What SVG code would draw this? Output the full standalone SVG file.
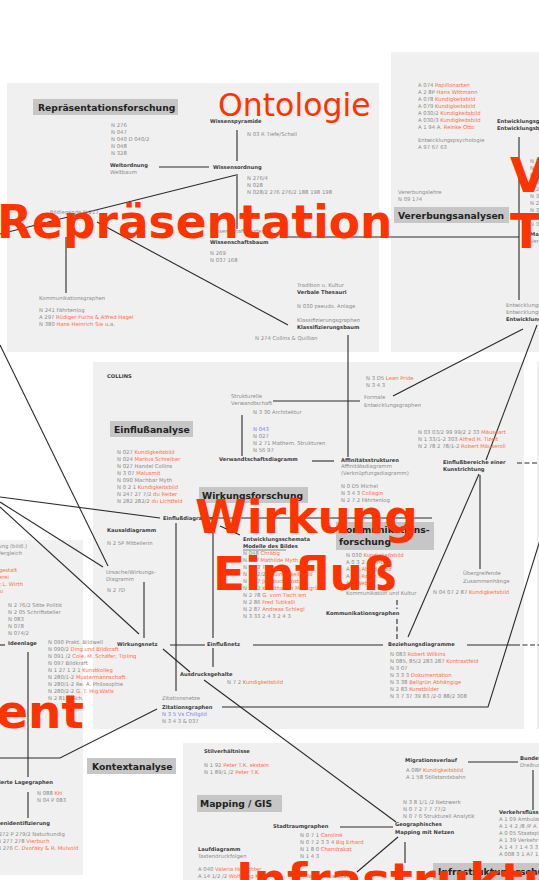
<svg xmlns="http://www.w3.org/2000/svg" width="539" height="880" viewBox="0 0 539 880">
<style>
text{font-family:"DejaVu Sans","Liberation Sans",sans-serif}
.pn{fill:#f0f0f0}
.s{font-size:5.3px;fill:#8a8a8a}
.h{font-size:5.2px;font-weight:bold;fill:#3c3c3c}
.o{fill:#ff6b45}
.bl{fill:#7b7bf0}
.lb rect{fill:#c6c6c6}
.lb text{font-size:9.2px;font-weight:bold;fill:#222}
.big{font-weight:bold;fill:#ff3300}
#connectors line,#connectors polyline{stroke:#2a2a2a;stroke-width:1.1;fill:none}
.d{stroke-dasharray:5 2.5}
.ul{stroke:#444;stroke-width:0.6}
</style>
<rect width="539" height="880" fill="#fff"/>
<g id="panels">
<rect class="pn" x="7" y="83" width="372" height="269"/>
<rect class="pn" x="391" y="52" width="148" height="300"/>
<rect class="pn" x="93" y="362" width="431" height="367"/>
<rect class="pn" x="537" y="362" width="10" height="367"/>
<rect class="pn" x="0" y="540" width="83" height="335"/>
<rect class="pn" x="183" y="743" width="356" height="137"/>
</g>
<g id="connectors">
<line x1="237" y1="130" x2="237" y2="161"/>
<line x1="159" y1="167" x2="209" y2="167"/>
<line x1="237" y1="174" x2="237" y2="229"/>
<line x1="236" y1="175" x2="0" y2="234"/>
<line x1="97" y1="222" x2="288" y2="325"/>
<line x1="66" y1="237" x2="66" y2="293"/>
<line x1="280" y1="237" x2="519" y2="237"/>
<line x1="519" y1="137" x2="519" y2="300"/>
<line x1="348" y1="335" x2="348" y2="457"/>
<line x1="273" y1="401" x2="360" y2="401"/>
<line x1="523" y1="329" x2="393" y2="396"/>
<line x1="537" y1="325" x2="486" y2="460"/>
<line x1="242" y1="415" x2="242" y2="456"/>
<line x1="312" y1="461" x2="334" y2="461"/>
<line class="d" x1="517" y1="463" x2="539" y2="463"/>
<line x1="479" y1="474" x2="408" y2="637"/>
<line x1="480" y1="475" x2="480" y2="569"/>
<polyline points="541,537 488,707 222,707"/>
<line x1="0" y1="497" x2="160" y2="518"/>
<line x1="0" y1="502" x2="103" y2="567"/>
<line x1="0" y1="507" x2="139" y2="634"/>
<line x1="0" y1="345" x2="108" y2="566"/>
<line x1="205" y1="518" x2="432" y2="518"/>
<line x1="220" y1="526" x2="240" y2="535"/>
<line x1="213" y1="521" x2="213" y2="638"/>
<line x1="213" y1="648" x2="213" y2="667"/>
<line x1="176" y1="523" x2="176" y2="691"/>
<line x1="144" y1="582" x2="144" y2="638"/>
<line x1="170" y1="645" x2="205" y2="645"/>
<line x1="253" y1="645" x2="383" y2="645"/>
<line x1="467" y1="645" x2="515" y2="645"/>
<line class="d" x1="515" y1="645" x2="539" y2="645"/>
<line x1="163" y1="649" x2="190" y2="672"/>
<line x1="204" y1="680" x2="396" y2="822"/>
<line class="d" x1="397" y1="600" x2="397" y2="609"/>
<line class="d" x1="397" y1="619" x2="397" y2="640"/>
<line x1="28" y1="652" x2="28" y2="777"/>
<line x1="28" y1="792" x2="28" y2="818"/>
<polyline points="0,758 60,758 157,709"/>
<line x1="0" y1="645" x2="5" y2="645"/>
<line x1="468" y1="762" x2="518" y2="762"/>
<line x1="533" y1="770" x2="533" y2="810"/>
<line x1="340" y1="827" x2="393" y2="827"/>
<line x1="398" y1="837" x2="357" y2="872"/>
<line x1="405" y1="842" x2="405" y2="863"/>
</g>
<g id="n-wissenspyramide"><text class="h" x="210" y="123">Wissenspyramide</text><text class="s" x="247" y="136">N 03 R Tiefe/Schall</text></g>
<g id="n-weltordnung"><text class="s"><tspan x="111" y="127">N 276</tspan><tspan x="111" y="134">N 047</tspan><tspan x="111" y="141">N 040 D 040/2</tspan><tspan x="111" y="148">N 048</tspan><tspan x="111" y="155">N 328</tspan></text><text class="h" x="110" y="167">Weltordnung</text><text class="s" x="110" y="174">Weltbaum</text></g>
<g id="n-wissensordnung"><text class="h" x="213" y="169">Wissensordnung</text><text class="s"><tspan x="247" y="180">N 276/4</tspan><tspan x="247" y="187">N 028</tspan><tspan x="247" y="194">N 028/2 276 276/2 188 198 198</tspan></text></g>
<g id="n-bildlegende"><text class="s" x="50" y="214">Bildlegende N 217</text></g>
<g id="n-wissenschaftsbaum"><text class="s" x="210" y="233">Wissenschaftssystem</text><text class="h" x="210" y="244">Wissenschaftsbaum</text><text class="s"><tspan x="210" y="255">N 269</tspan><tspan x="210" y="262">N 037 168</tspan></text></g>
<g id="n-kommunikationsgraphen"><text class="s" x="39" y="300">Kommunikationsgraphen</text><text class="s"><tspan x="39" y="312">N 241 Fährtenlog</tspan><tspan x="39" y="319">A 297 <tspan class="o">Rüdiger Fuchs &amp; Alfred Hagel</tspan></tspan><tspan x="39" y="326">N 380 <tspan class="o">Hans Heinrich Sie</tspan> u.a.</tspan></text></g>
<g id="n-klassifizierung"><text class="s" x="297" y="287">Tradition u. Kultur</text><text class="h" x="297" y="294">Verbale Thesauri</text><text class="s" x="297" y="308">N 030 pseudo. Anlage</text><text class="s" x="297" y="322">Klassifizierungsgraphen</text><text class="h" x="297" y="329">Klassifizierungsbaum</text><text class="s" x="255" y="340">N 274 Collins &amp; Quillian</text></g>
<g id="n-vererbung-refs"><text class="s"><tspan x="418" y="87">A 074 <tspan class="o">Papillonarten</tspan></tspan><tspan x="418" y="94">A 2 8P <tspan class="o">Hans Wittmann</tspan></tspan><tspan x="418" y="101">A 078 <tspan class="o">Kundigkeitsbild</tspan></tspan><tspan x="418" y="108">A 079 <tspan class="o">Kundigkeitsbild</tspan></tspan><tspan x="418" y="115">A 030/2 <tspan class="o">Kundigkeitsbild</tspan></tspan><tspan x="418" y="122">A 030/3 <tspan class="o">Kundigkeitsbild</tspan></tspan><tspan x="418" y="129">A 1 94 A. <tspan class="o">Reinke Otto</tspan></tspan><tspan x="418" y="142">Entwicklungspsychologie</tspan><tspan x="418" y="149">A 97 67 63</tspan></text></g>
<g id="n-entwicklung-top"><text class="h"><tspan x="497" y="123">Entwicklungsgeschichte</tspan><tspan x="497" y="130">Entwicklungsbiologie</tspan></text></g>
<g id="n-vererbungslehre"><text class="s"><tspan x="398" y="194">Vererbungslehre</tspan><tspan x="398" y="201">N 09 174</tspan></text></g>
<g id="n-right-refs"><text class="s"><tspan x="530" y="163">N 32</tspan><tspan x="530" y="170">N 33</tspan><tspan x="530" y="177">N 2 1</tspan><tspan x="530" y="184">N 31</tspan><tspan x="530" y="191">N 27</tspan><tspan x="530" y="198">N 34</tspan><tspan x="530" y="205">N 2 7</tspan><tspan x="530" y="212">N 36</tspan><tspan x="530" y="219">N 1 2</tspan><tspan x="530" y="226">N 3 3</tspan></text><text class="h" x="530" y="236">Mannigfaltigkeit</text><text class="s" x="530" y="243">Verwandtschaft</text></g>
<g id="n-entwicklungsbaum"><text class="s"><tspan x="506" y="307">Entwicklungsstufen</tspan><tspan x="506" y="314">Entwicklungsreihen</tspan></text><text class="h" x="506" y="321">Entwicklungsbaum</text></g>
<g id="n-collins"><text class="h" x="107" y="378">COLLINS</text></g>
<g id="n-strukturelle"><text class="s"><tspan x="231" y="398">Strukturelle</tspan><tspan x="231" y="405">Verwandtschaft</tspan><tspan x="253" y="414">N 3 30 Architektur</tspan></text></g>
<g id="n-verwandtschaftsdiagramm"><text class="s"><tspan x="253" y="431" class="bl">N 043</tspan><tspan x="253" y="438">N 027</tspan><tspan x="253" y="445">N 2 71 Mathem. Strukturen</tspan><tspan x="253" y="452">N 56 97</tspan></text><text class="h" x="219" y="461">Verwandtschaftsdiagramm</text></g>
<g id="n-affinitaet"><text class="h" x="341" y="462">Affinitätsstrukturen</text><text class="s"><tspan x="341" y="468">Affinitätsdiagramm</tspan><tspan x="341" y="475">(Verknüpfungsdiagramm)</tspan><tspan x="341" y="488">N 0 D5 Michel</tspan><tspan x="341" y="495">N 3 4 3 <tspan class="o">Collagin</tspan></tspan><tspan x="341" y="502">N 2 7 2 Fährtenlog</tspan></text></g>
<g id="n-formale"><text class="s"><tspan x="366" y="380">N 3 D5 <tspan class="o">Lean Pride</tspan></tspan><tspan x="366" y="387">N 3 4 3</tspan><tspan x="364" y="399">Formale</tspan><tspan x="364" y="407">Entwicklungsgraphen</tspan></text></g>
<g id="n-einflussanalyse-refs"><text class="s"><tspan x="117" y="454">N 027 <tspan class="o">Kundigkeitsbild</tspan></tspan><tspan x="117" y="461">N 024 <tspan class="o">Markus Schreiber</tspan></tspan><tspan x="117" y="468">N 027 Handel Collins</tspan><tspan x="117" y="475">N 3 07 <tspan class="o">Malusmit</tspan></tspan><tspan x="117" y="482">N 090 Machbar Myth</tspan><tspan x="117" y="489">N 0 2 1 <tspan class="o">Kundigkeitsbild</tspan></tspan><tspan x="117" y="496">N 247 27 7/2 <tspan class="o">du Reiter</tspan></tspan><tspan x="117" y="503">N 282 282/2 <tspan class="o">du Lichtfeld</tspan></tspan></text></g>
<g id="n-einflussbereiche"><text class="s"><tspan x="418" y="434">N 03 03/2 99 99/2 2 33 <tspan class="o">Mäuseart</tspan></tspan><tspan x="418" y="441">N 1 33/1-2 303 <tspan class="o">Alfred H. Tizeit</tspan></tspan><tspan x="418" y="448">N 2 78 2 78/1-2 <tspan class="o">Robert Mäuseroll</tspan></tspan></text><text class="h"><tspan x="443" y="464">Einflußbereiche einer</tspan><tspan x="443" y="471">Kunstrichtung</tspan></text></g>
<g id="n-einflussdiagramm"><text class="h" x="163" y="520">Einflußdiagramm</text></g>
<g id="n-kausaldiagramm"><text class="h" x="107" y="532">Kausaldiagramm</text><text class="s" x="107" y="545">N 2 5P Mitteilerin</text></g>
<g id="n-ursache"><text class="s"><tspan x="106" y="574">Ursache/Wirkungs-</tspan><tspan x="106" y="581">Diagramm</tspan><tspan x="107" y="592">N 2 7D</tspan></text></g>
<g id="n-wirkungsnetz"><text class="h" x="117" y="646">Wirkungsnetz</text></g>
<g id="n-einflussnetz"><text class="h" x="207" y="646">Einflußnetz</text></g>
<g id="n-entwicklungsschemata"><text class="h"><tspan x="243" y="541">Entwicklungsschemata</tspan><tspan x="243" y="548">Modelle des Bildes</tspan></text><line class="ul" x1="243" y1="550" x2="286" y2="550"/><text class="s"><tspan x="243" y="555">N 048 <tspan class="o">Chrätig</tspan></tspan><tspan x="243" y="562">N 047 <tspan class="o">Mathilde Myth</tspan></tspan><tspan x="243" y="569">N 0 83 <tspan class="o">Tiefenbild</tspan></tspan><tspan x="243" y="576">N 2 72/2 3 <tspan class="o">Kundigkeitsbild</tspan></tspan><tspan x="243" y="583">N 2 77 <tspan class="o">Jahrbuch Nöst</tspan></tspan><tspan x="243" y="590">N 28/2 <tspan class="o">Krauthamm Milchgrün</tspan></tspan><tspan x="243" y="597">N 2 78 <tspan class="o">G. vom Tisch am</tspan></tspan><tspan x="243" y="604">N 2 86 <tspan class="o">Fred Tutikalli</tspan></tspan><tspan x="243" y="611">N 2 87 <tspan class="o">Andreas Schlegl</tspan></tspan><tspan x="243" y="618">N 3 33 2 4 3 2 4 3</tspan></text></g>
<g id="n-kommunikation-refs"><text class="s"><tspan x="346" y="557">N 030 <tspan class="o">Kundigkeitsbild</tspan></tspan><tspan x="346" y="564">A 0 3 2 <tspan class="o">Alterität</tspan></tspan><tspan x="346" y="571">A 1 2 <tspan class="o">Alfred Kunz</tspan></tspan><tspan x="346" y="578">A 1 3 <tspan class="o">Raum Stil</tspan></tspan><tspan x="346" y="585">A 2 <tspan class="o">Weber</tspan></tspan><tspan x="346" y="595">Kommunikation und Kultur</tspan></text></g>
<g id="n-kommunikationsgraphen2"><text class="h" x="326" y="615">Kommunikationsgraphen</text></g>
<g id="n-beziehungsdiagramme"><text class="h" x="388" y="646">Beziehungsdiagramme</text><text class="s"><tspan x="390" y="656">N 083 <tspan class="o">Robert Wilkins</tspan></tspan><tspan x="390" y="663">N 085, 85/2 283 287 <tspan class="o">Kontrastfeld</tspan></tspan><tspan x="390" y="670">N 3 07</tspan><tspan x="390" y="677">N 3 3 3 <tspan class="o">Dokumentation</tspan></tspan><tspan x="390" y="684">N 3 38 <tspan class="o">Bellgrün Abhängige</tspan></tspan><tspan x="390" y="691">N 2 83 <tspan class="o">Kunstbilder</tspan></tspan><tspan x="390" y="698">N 3 7 37 39 83 /2-0 88/2 308</tspan></text></g>
<g id="n-uebergreifend"><text class="s"><tspan x="463" y="575">Übergreifende</tspan><tspan x="463" y="583">Zusammenhänge</tspan><tspan x="433" y="594">N 04 07 2 87 <tspan class="o">Kundigkeitsbild</tspan></tspan></text></g>
<g id="n-ausdrucksgehalte"><text class="h" x="180" y="676">Ausdrucksgehalte</text><text class="s" x="227" y="684">N 7 2 <tspan class="o">Kundigkeitsbild</tspan></text></g>
<g id="n-zitationsgraphen"><text class="s" x="162" y="700">Zitationsnetze</text><text class="h" x="162" y="709">Zitationsgraphen</text><text class="s"><tspan x="162" y="716" class="bl">N 3 5 Vs Chillgild</tspan><tspan x="162" y="723">N 3 4 3 &amp; 037</tspan></text></g>
<g id="n-left-top"><text class="s" text-anchor="end"><tspan x="27" y="548">Darstellung (bildl.)</tspan><tspan x="22" y="555">Vergleich</tspan><tspan x="17" y="572" class="o">Bildgestalt</tspan><tspan x="9" y="579" class="o">Malerei</tspan><tspan x="23" y="586" class="o">Kunst L. Wirth</tspan><tspan x="3" y="593" class="o">Rau</tspan></text><text class="s"><tspan x="8" y="607">N 2 76/2 Sitte Politik</tspan><tspan x="8" y="614">N 2 05 Schriftsteller</tspan><tspan x="8" y="621">N 083</tspan><tspan x="8" y="628">N 078</tspan><tspan x="8" y="635">N 074/2</tspan></text></g>
<g id="n-stereotype"><text class="h" x="8" y="645">Ideenlage</text><text class="s"><tspan x="48" y="644">N 090 Prakt. Bildwell</tspan><tspan x="48" y="651">N 090/2 <tspan class="o">Ding und Bildkraft</tspan></tspan><tspan x="48" y="658">N 091 /2 <tspan class="o">Cole, M. Schäfer, Tipling</tspan></tspan><tspan x="48" y="665">N 097 Bildkraft</tspan><tspan x="48" y="672">N 1 27 1 2 1 <tspan class="o">Kunstkolleg</tspan></tspan><tspan x="48" y="679">N 280/1-2 <tspan class="o">Mustermannschaft</tspan></tspan><tspan x="48" y="686">N 280/1-2 Re. A. Philosophie</tspan><tspan x="48" y="693">N 280/2-2 <tspan class="o">G. T. Hig Walls</tspan></tspan><tspan x="48" y="700">N 2 81 3 Sch.</tspan></text></g>
<g id="n-lagegraphen"><text class="h" x="53" y="784" text-anchor="end">Orientierte Lagegraphen</text><text class="s"><tspan x="37" y="795">N 088 <tspan class="o">KH</tspan></tspan><tspan x="37" y="802">N 04 P 083</tspan></text></g>
<g id="n-identifizierung"><text class="h" x="50" y="825" text-anchor="end">Gruppenidentifizierung</text><text class="s"><tspan x="-7" y="836">N 272 P 279/2 Naturkundig</tspan><tspan x="-3" y="843">N 277 278 <tspan class="o">Vierbuch</tspan></tspan><tspan x="-3" y="850">N 276 <tspan class="o">C. Dvořáky &amp; R. Mulvold</tspan></tspan></text></g>
<g id="n-stil"><text class="h" x="204" y="753">Stilverhältnisse</text><text class="s"><tspan x="204" y="767">N 1 92 <tspan class="o">Peter T.K. ekstein</tspan></tspan><tspan x="204" y="774">N 1 89/1 /2 <tspan class="o">Peter T.K.</tspan></tspan></text></g>
<g id="n-migration"><text class="h" x="405" y="762">Migrationsverlauf</text><text class="s"><tspan x="406" y="772">A 08P <tspan class="o">Kundigkeitsbild</tspan></tspan><tspan x="406" y="779">A 1 58 Stillstandsbahn</tspan></text></g>
<g id="n-bund"><text class="h" x="520" y="760">Bundesverkehr</text><text class="s" x="520" y="767">Dreibund</text></g>
<g id="n-verkehr"><text class="h" x="499" y="814">Verkehrsflüsse</text><text class="s"><tspan x="499" y="821">A 1 09 Ambulanz</tspan><tspan x="499" y="828">A 1 4 2 /8 /P A</tspan><tspan x="499" y="835">A 0 05 Staatsplan</tspan><tspan x="499" y="842">A 1 39 Verkehr</tspan><tspan x="499" y="849">A 1 4 7 1 4 3 3</tspan><tspan x="499" y="856">A 008 3 1 A7 1</tspan></text></g>
<g id="n-geo"><text class="s"><tspan x="403" y="804">N 3 8 1/1 /2 Netzwerk</tspan><tspan x="403" y="811">N 0 7 2 7 7 77/2</tspan><tspan x="403" y="818">N 0 7 6 Strukturell Analytik</tspan></text><text class="h"><tspan x="395" y="826">Geographisches</tspan><tspan x="395" y="834">Mapping mit Netzen</tspan></text></g>
<g id="n-stadtraum"><text class="h" x="273" y="828">Stadtraumgraphen</text><text class="s"><tspan x="300" y="837">N 0 7 1 <tspan class="o">Carolinë</tspan></tspan><tspan x="300" y="844">N 0 7 2 3 3 4 <tspan class="o">Big Erhard</tspan></tspan><tspan x="300" y="851">N 1 8 0 <tspan class="o">Chandrakat</tspan></tspan><tspan x="300" y="858">N 1 4 3</tspan></text><text class="s" x="307" y="878">Netzwerkwissen</text></g>
<g id="n-lauf"><text class="h" x="198" y="851">Laufdiagramm</text><text class="s"><tspan x="198" y="858">Tastendruckfolgen</tspan><tspan x="198" y="871">A 040 <tspan class="o">Valeria Hofrichter</tspan></tspan><tspan x="198" y="878">A 14 1/2 /2 <tspan class="o">Wolfgang K.</tspan></tspan></text></g>
<g id="labels" class="lb">
<g id="l-repraesentationsforschung"><rect x="33" y="99" width="145" height="16"/><text x="38" y="110.5">Repräsentationsforschung</text></g>
<g id="l-vererbungsanalysen"><rect x="394" y="207" width="115" height="16"/><text x="398" y="218.5">Vererbungsanalysen</text></g>
<g id="l-einflussanalyse"><rect x="110" y="421" width="83" height="16"/><text x="114" y="432.5">Einflußanalyse</text></g>
<g id="l-wirkungsforschung"><rect x="199" y="487" width="109" height="16"/><text x="202" y="498.5">Wirkungsforschung</text></g>
<g id="l-kommunikationsforschung"><rect x="336" y="522" width="98" height="28"/><text x="339" y="533">Kommunikations-</text><text x="339" y="545">forschung</text></g>
<g id="l-kontextanalyse"><rect x="87" y="758" width="89" height="16"/><text x="92" y="769.5">Kontextanalyse</text></g>
<g id="l-mapping"><rect x="197" y="795" width="85" height="17"/><text x="200" y="807">Mapping / GIS</text></g>
<g id="l-infrastruktur"><rect x="433" y="863" width="130" height="17"/><text x="438" y="875">Infrastrukturforschung</text></g>
</g>
<g id="areas">
<text x="218" y="116" font-size="31.5" fill="#ff3300">Ontologie</text>
<text class="big" x="-3" y="238" font-size="45.5">Repräsentation</text>
<text class="big" x="195" y="533" font-size="47">Wirkung</text>
<text class="big" x="213" y="590" font-size="47">Einfluß</text>
<text class="big" x="84" y="728" font-size="47" text-anchor="end">ent</text>
<text class="big" x="510" y="192" font-size="48">V</text>
<text class="big" x="510" y="248" font-size="48">T</text>
<text class="big" x="236" y="896" font-size="47">Infrastruktur</text>
</g>
</svg>
